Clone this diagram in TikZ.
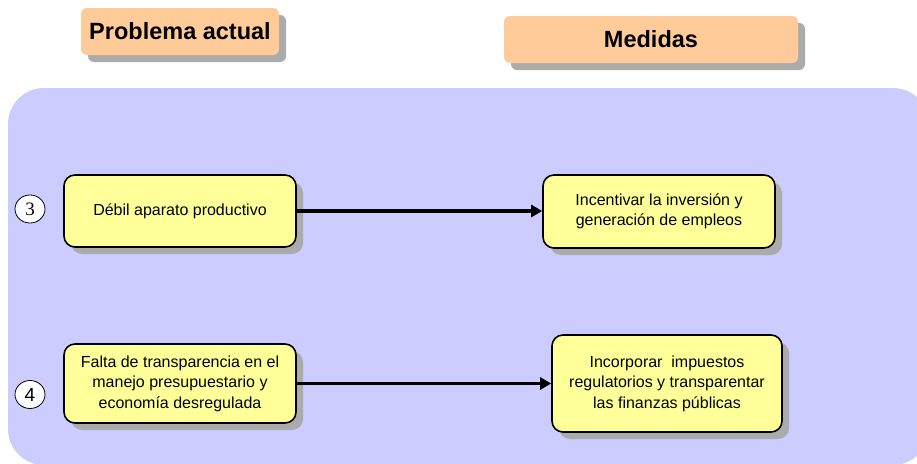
\documentclass[tikz,border=0pt]{standalone}
\usepackage{fontspec}
\setmainfont{Liberation Sans}
\newfontfamily\numserif{Liberation Serif}
\usetikzlibrary{arrows.meta,shadows,shapes.geometric}
\definecolor{bgc}{HTML}{CCCCFF}
\definecolor{titlec}{HTML}{FFCC99}
\definecolor{boxc}{HTML}{FFFF99}
\definecolor{shadc}{HTML}{ABABAB}
\tikzset{
  titlebox/.style={fill=titlec, rounded corners=6pt, inner sep=0pt,
    font=\fontsize{23.5}{26}\selectfont\bfseries,
    drop shadow={shadow xshift=7pt, shadow yshift=-7pt, fill=shadc, opacity=1}},
  itembox/.style={fill=boxc, draw=black, line width=1.6pt, rounded corners=11pt,
    inner sep=0pt, align=center, font=\fontsize{16}{20.5}\selectfont,
    drop shadow={shadow xshift=7pt, shadow yshift=-7pt, fill=shadc, opacity=1}},
  numcirc/.style={ellipse, draw=black, line width=0.8pt, fill=white,
    minimum width=30pt, minimum height=28pt, inner sep=0pt,
    font=\fontsize{19}{20}\selectfont},
  conn/.style={draw=black, line width=3.2pt, -{Triangle[length=11pt,width=12pt]}}
}
\begin{document}
\begin{tikzpicture}[x=1pt,y=-1pt]
\useasboundingbox (0,0) rectangle (917,463);
\fill[bgc, rounded corners=36pt] (8,88) rectangle (929,465);

\node[titlebox, minimum width=198pt, minimum height=47pt] (t1) at (180,31.5) {Problema actual};
\node[titlebox, minimum width=294pt, minimum height=47pt] (t2) at (651,39.5) {Medidas};

\node[itembox, minimum width=232pt, minimum height=72pt] (b1) at (180,211) {Débil aparato productivo};
\node[itembox, minimum width=232pt, minimum height=73pt] (b2) at (659,211.5) {Incentivar la inversión y\\generación de empleos};
\node[itembox, minimum width=232pt, minimum height=79pt] (b3) at (180,383.5) {Falta de transparencia en el\\manejo presupuestario y\\economía desregulada};
\node[itembox, minimum width=230pt, minimum height=97pt] (b4) at (667,383.5) {Incorporar\ \ impuestos\\regulatorios y transparentar\\las finanzas públicas};

\node[numcirc, font=\fontsize{19}{20}\selectfont\numserif] (n3) at (30,209) {3};
\node[numcirc] (n4) at (30,394.5) {4};

\draw[conn] (b1.east) -- (b1.east -| b2.west);
\draw[conn] (b3.east) -- (b3.east -| b4.west);
\end{tikzpicture}
\end{document}
